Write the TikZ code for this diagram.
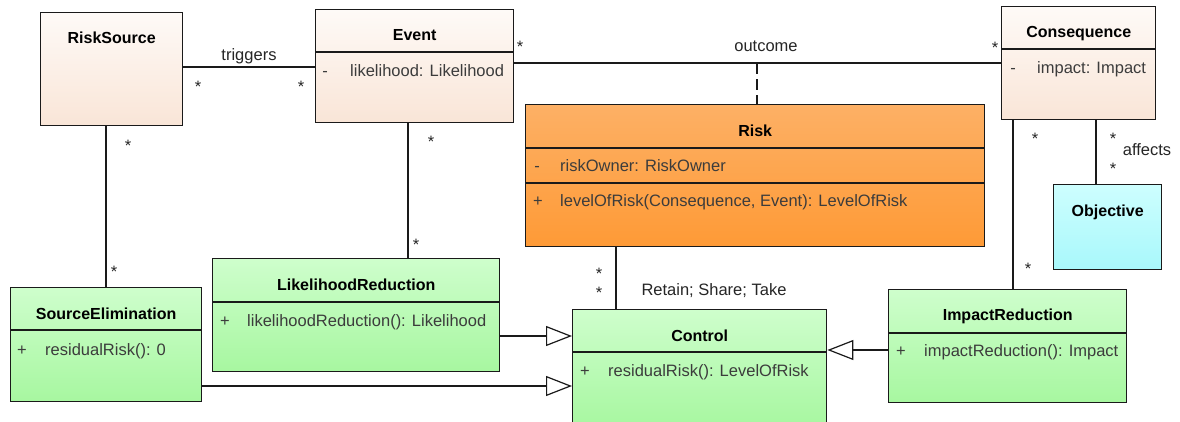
\documentclass[tikz,border=0pt]{standalone}
\usepackage{fontspec}
\setmainfont{Liberation Sans}
\usetikzlibrary{arrows.meta}

\definecolor{beigeTop}{HTML}{FEFAF7}
\definecolor{beigeBot}{HTML}{F9E5D7}
\definecolor{orangeTop}{HTML}{FDB065}
\definecolor{orangeBot}{HTML}{FE9A36}
\definecolor{greenTop}{HTML}{CEFECC}
\definecolor{greenBot}{HTML}{A7F7A0}
\definecolor{cyanTop}{HTML}{CDFEFE}
\definecolor{cyanBot}{HTML}{A8F8FB}
\definecolor{membertext}{HTML}{3C3C3C}
\definecolor{edge}{HTML}{1A1A1A}

\begin{document}
\begin{tikzpicture}[x=1pt,y=-1pt,
  every node/.style={font=\fontsize{16.5}{19}\selectfont, inner sep=0pt},
  classbox/.style={draw=edge, line width=1.4pt, rectangle, inner sep=0pt, anchor=north west},
  beige/.style={top color=beigeTop, bottom color=beigeBot},
  orange/.style={top color=orangeTop, bottom color=orangeBot},
  green/.style={top color=greenTop, bottom color=greenBot},
  cyan/.style={top color=cyanTop, bottom color=cyanBot},
  sep/.style={draw=edge, line width=1.2pt},
  title/.style={font=\fontsize{16}{19}\selectfont\bfseries, anchor=base},
  vis/.style={text=membertext, anchor=base},
  member/.style={text=membertext, anchor=base west},
  lbl/.style={text=black!85, anchor=base},
  mult/.style={text=black!85, anchor=base},
  assoc/.style={draw=edge, line width=1.2pt},
  gen/.style={draw=edge, line width=1.2pt, -{Triangle[open, length=26pt, width=20pt, fill=white]}},
]
\useasboundingbox (0,0) rectangle (1180,421);
\clip (0,0) rectangle (1180,421);
\fill[white] (0,0) rectangle (1180,421);

% ---------- classes ----------
% RiskSource
\node[classbox, beige, minimum width=142, minimum height=113] (rs) at (40,12) {};
\node[title] at (rs.center |- 0,43) {RiskSource};

% Event
\node[classbox, beige, minimum width=198, minimum height=113] (ev) at (315,9) {};
\draw[sep] (ev.west |- 0,52) -- (ev.east |- 0,52);
\node[title] at (ev.center |- 0,40) {Event};
\node[vis] at (325,76) {-};
\node[member] at (350,76) {likelihood: Likelihood};

% Consequence
\node[classbox, beige, minimum width=154, minimum height=113] (co) at (1001,6) {};
\draw[sep] (co.west |- 0,49) -- (co.east |- 0,49);
\node[title] at (co.center |- 0,37) {Consequence};
\node[vis] at (1013,73) {-};
\node[member] at (1037,73) {impact: Impact};

% Risk
\node[classbox, orange, minimum width=459, minimum height=142] (ri) at (525,104) {};
\draw[sep] (ri.west |- 0,148) -- (ri.east |- 0,148);
\draw[sep] (ri.west |- 0,183) -- (ri.east |- 0,183);
\node[title] at (ri.center |- 0,136) {Risk};
\node[vis] at (537,171) {-};
\node[member] at (560,171) {riskOwner: RiskOwner};
\node[vis] at (538,206) {+};
\node[member] at (560,206) {levelOfRisk(Consequence, Event): LevelOfRisk};

% Objective
\node[classbox, cyan, minimum width=108, minimum height=85] (ob) at (1053,184) {};
\node[title] at (ob.center |- 0,216) {Objective};

% SourceElimination
\node[classbox, green, minimum width=191, minimum height=114] (se) at (10,287) {};
\draw[sep] (se.west |- 0,330) -- (se.east |- 0,330);
\node[title] at (se.center |- 0,319) {SourceElimination};
\node[vis] at (22,355) {+};
\node[member] at (45,355) {residualRisk(): 0};

% LikelihoodReduction
\node[classbox, green, minimum width=287, minimum height=113] (lr) at (212,258) {};
\draw[sep] (lr.west |- 0,302) -- (lr.east |- 0,302);
\node[title] at (lr.center |- 0,290) {LikelihoodReduction};
\node[vis] at (225,326) {+};
\node[member] at (247,326) {likelihoodReduction(): Likelihood};

% Control
\node[classbox, green, minimum width=254, minimum height=118] (ct) at (572,309) {};
\draw[sep] (ct.west |- 0,352) -- (ct.east |- 0,352);
\node[title] at (ct.center |- 0,341) {Control};
\node[vis] at (585,376) {+};
\node[member] at (608,376) {residualRisk(): LevelOfRisk};

% ImpactReduction
\node[classbox, green, minimum width=238, minimum height=113] (ir) at (888,289) {};
\draw[sep] (ir.west |- 0,333) -- (ir.east |- 0,333);
\node[title] at (ir.center |- 0,320) {ImpactReduction};
\node[vis] at (901,356) {+};
\node[member] at (924,356) {impactReduction(): Impact};

% ---------- associations ----------
% triggers
\draw[assoc] (rs.east |- 0,67) -- (ev.west |- 0,67);
\node[lbl] at (249,60) {triggers};
\node[mult] at (198,92) {*};
\node[mult] at (301,92) {*};

% outcome (with association class Risk)
\draw[assoc] (ev.east |- 0,63) -- (co.west |- 0,63);
\coordinate (oc) at (757,63);
\draw[draw=edge, line width=1.2pt, dash pattern=on 11pt off 5pt] (oc) -- (ri.north -| oc);
\node[lbl] at (766,51) {outcome};
\node[mult] at (520,52) {*};
\node[mult] at (995,53) {*};

% RiskSource -- SourceElimination
\draw[assoc] (rs.south -| 106,0) -- (se.north -| 106,0);
\node[mult] at (128,151) {*};
\node[mult] at (114,277) {*};

% Event -- LikelihoodReduction
\draw[assoc] (ev.south -| 408,0) -- (lr.north -| 408,0);
\node[mult] at (431,147) {*};
\node[mult] at (416,250) {*};

% Consequence -- ImpactReduction
\draw[assoc] (co.south -| 1013,0) -- (ir.north -| 1013,0);
\node[mult] at (1035,144) {*};
\node[mult] at (1028,274) {*};

% Consequence -- Objective
\draw[assoc] (co.south -| 1096,0) -- (ob.north -| 1096,0);
\node[mult] at (1113,144) {*};
\node[mult] at (1113,174) {*};
\node[lbl] at (1147,155) {affects};

% Risk -- Control
\draw[assoc] (ri.south -| 616,0) -- (ct.north -| 616,0);
\node[mult] at (599,279) {*};
\node[mult] at (599,298) {*};
\node[lbl] at (714,295) {Retain; Share; Take};

% ---------- generalisations ----------
\draw[gen] (lr.east |- 0,336) -- (ct.west |- 0,336);
\draw[gen] (se.east |- 0,386) -- (ct.west |- 0,386);
\draw[gen] (ir.west |- 0,350) -- (ct.east |- 0,350);
\end{tikzpicture}
\end{document}
